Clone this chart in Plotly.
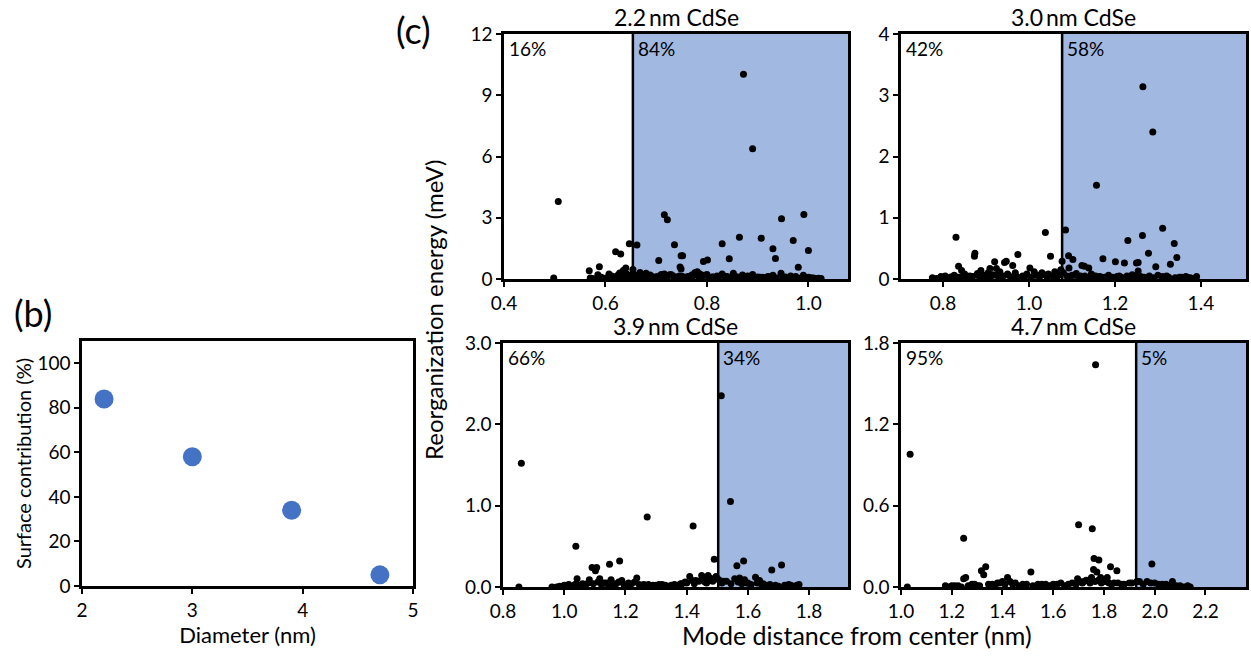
import plotly.graph_objects as go

W, H = 1251, 656
FONT = "Lato"

# ---------------- data ----------------
# panel (b)
diam = [2.2, 3.0, 3.9, 4.7]
surface_pct = [84, 58, 34, 5]

# panel (c) 2.2 nm
x22 = [0.507, 0.498, 0.872, 0.890, 0.716, 0.722, 0.947, 0.991, 0.864, 0.907, 0.970, 0.930, 1.000,
       0.935, 0.844, 0.830, 0.736, 0.749, 0.752, 0.747, 0.749, 0.705, 0.793, 0.801, 0.980, 0.647,
       0.662, 0.620, 0.630, 0.568, 0.588, 0.640, 0.635, 0.654, 0.607, 0.628, 0.585,
       0.570, 0.592, 0.600, 0.612, 0.618, 0.625, 0.633, 0.642, 0.650, 0.660, 0.668, 0.673, 0.680,
       0.688, 0.695, 0.702, 0.710, 0.716, 0.724, 0.731, 0.740, 0.746, 0.755, 0.762, 0.770, 0.776,
       0.781, 0.786, 0.792, 0.800, 0.810, 0.820, 0.830, 0.840, 0.852, 0.860, 0.870, 0.880, 0.890,
       0.900, 0.910, 0.920, 0.930, 0.946, 0.955, 0.965, 0.975, 0.990, 1.000, 1.010, 1.020]
y22 = [3.80, 0.05, 10.03, 6.38, 3.15, 2.90, 2.95, 3.16, 2.04, 2.00, 1.88, 1.48, 1.40,
       1.01, 0.99, 1.73, 1.68, 1.14, 1.14, 0.59, 0.49, 0.91, 0.86, 0.93, 0.57, 1.73,
       1.66, 1.34, 1.22, 0.41, 0.60, 0.54, 0.42, 0.46, 0.24, 0.29, 0.21,
       0.05, 0.08, 0.04, 0.15, 0.10, 0.20, 0.12, 0.25, 0.18, 0.10, 0.32, 0.15, 0.28,
       0.20, 0.10, 0.12, 0.22, 0.25, 0.18, 0.20, 0.10, 0.15, 0.08, 0.12, 0.20, 0.30,
       0.35, 0.25, 0.18, 0.22, 0.10, 0.15, 0.25, 0.12, 0.28, 0.10, 0.20, 0.15, 0.22,
       0.10, 0.08, 0.12, 0.18, 0.28, 0.10, 0.15, 0.12, 0.18, 0.08, 0.05, 0.04]
base22 = [(0.575, 0.03), (0.585, 0.06), (0.595, 0.02), (0.605, 0.08), (0.615, 0.05), (0.622, 0.12),
          (0.628, 0.04), (0.638, 0.09), (0.645, 0.15), (0.652, 0.06), (0.658, 0.20), (0.664, 0.10),
          (0.671, 0.05), (0.677, 0.18), (0.684, 0.08), (0.691, 0.12), (0.698, 0.04), (0.706, 0.15),
          (0.713, 0.09), (0.721, 0.06), (0.728, 0.22), (0.735, 0.11), (0.743, 0.07), (0.751, 0.14),
          (0.758, 0.05), (0.765, 0.10), (0.773, 0.16), (0.779, 0.25), (0.784, 0.12), (0.789, 0.08),
          (0.796, 0.18), (0.804, 0.06), (0.813, 0.10), (0.822, 0.05), (0.834, 0.14), (0.846, 0.07),
          (0.856, 0.12), (0.865, 0.05), (0.875, 0.09), (0.885, 0.13), (0.895, 0.04), (0.905, 0.08),
          (0.915, 0.06), (0.925, 0.11), (0.937, 0.05), (0.950, 0.09), (0.960, 0.04), (0.972, 0.07),
          (0.985, 0.05), (0.995, 0.03), (1.005, 0.06), (1.015, 0.02), (1.025, 0.03)]
cut22 = 0.654

# panel (c) 3.0 nm
x30 = [1.265, 1.288, 1.157, 1.085, 1.038, 1.311, 1.264, 1.230, 1.338, 0.830, 0.874, 0.873, 0.974,
       1.050, 1.092, 1.102, 1.172, 1.201, 1.222, 1.250, 1.254, 1.278, 1.344, 1.329, 1.295, 1.254,
       1.093, 0.920, 0.943, 0.947, 0.962, 1.002, 1.077, 0.836, 0.843, 0.888, 0.909, 0.924, 1.123,
       1.129, 1.139, 1.074,
       0.775, 0.795, 0.805, 0.815, 0.826, 0.850, 0.862, 0.880, 0.895, 0.905, 0.915, 0.932, 0.952,
       0.968, 0.985, 0.995, 1.012, 1.020, 1.030, 1.045, 1.060, 1.070, 1.080, 1.100, 1.110, 1.120,
       1.145, 1.150, 1.165, 1.185, 1.195, 1.210, 1.240, 1.260, 1.300, 1.320, 1.350, 1.365, 1.375,
       1.390]
y30 = [3.14, 2.40, 1.53, 0.80, 0.76, 0.83, 0.71, 0.63, 0.58, 0.68, 0.42, 0.37, 0.40,
       0.37, 0.38, 0.32, 0.33, 0.28, 0.26, 0.26, 0.27, 0.42, 0.35, 0.24, 0.20, 0.13,
       0.18, 0.28, 0.27, 0.29, 0.22, 0.18, 0.29, 0.21, 0.14, 0.14, 0.17, 0.17, 0.22,
       0.21, 0.18, 0.15,
       0.02, 0.04, 0.05, 0.03, 0.06, 0.08, 0.05, 0.09, 0.06, 0.10, 0.07, 0.12, 0.06,
       0.10, 0.05, 0.08, 0.12, 0.06, 0.10, 0.08, 0.12, 0.07, 0.10, 0.06, 0.09, 0.05,
       0.08, 0.05, 0.04, 0.06, 0.03, 0.05, 0.07, 0.04, 0.06, 0.05, 0.03, 0.04, 0.02,
       0.04]
base30 = [(0.785, 0.01), (0.800, 0.03), (0.812, 0.02), (0.822, 0.04), (0.835, 0.03), (0.846, 0.05),
          (0.856, 0.02), (0.868, 0.04), (0.878, 0.06), (0.886, 0.03), (0.898, 0.05), (0.910, 0.02),
          (0.922, 0.06), (0.930, 0.03), (0.940, 0.05), (0.950, 0.08), (0.958, 0.03), (0.970, 0.05),
          (0.980, 0.02), (0.990, 0.04), (1.005, 0.03), (1.015, 0.06), (1.025, 0.04), (1.035, 0.07),
          (1.042, 0.03), (1.055, 0.05), (1.065, 0.03), (1.072, 0.08), (1.088, 0.05), (1.095, 0.03),
          (1.105, 0.06), (1.115, 0.04), (1.130, 0.05), (1.140, 0.03), (1.155, 0.05), (1.160, 0.02),
          (1.175, 0.03), (1.190, 0.02), (1.205, 0.04), (1.215, 0.03), (1.228, 0.05), (1.235, 0.02),
          (1.248, 0.04), (1.268, 0.03), (1.280, 0.05), (1.290, 0.02), (1.310, 0.04), (1.325, 0.03),
          (1.340, 0.02), (1.355, 0.03), (1.370, 0.02), (1.380, 0.01)]
cut30 = 1.077

# panel (c) 3.9 nm
x39 = [0.860, 0.852, 1.513, 1.543, 1.271, 1.421, 1.038, 1.490, 1.181, 1.148, 1.091, 1.106, 1.102,
       1.586, 1.564, 1.710, 1.678, 1.042, 1.410, 1.449, 1.470, 1.496, 1.625, 1.237, 1.082, 1.116,
       1.153, 1.188, 1.557, 1.573, 1.589, 1.638, 1.733, 1.767,
       0.960, 0.985, 1.000, 1.015, 1.060, 1.130, 1.170, 1.210, 1.260, 1.290, 1.320, 1.350, 1.380,
       1.395, 1.430, 1.460, 1.480, 1.520, 1.600, 1.650, 1.690, 1.740]
y39 = [1.52, 0.00, 2.35, 1.05, 0.86, 0.75, 0.50, 0.34, 0.32, 0.28, 0.24, 0.24, 0.20,
       0.32, 0.26, 0.27, 0.21, 0.10, 0.13, 0.14, 0.14, 0.13, 0.12, 0.11, 0.09, 0.10,
       0.09, 0.08, 0.10, 0.11, 0.09, 0.08, 0.03, 0.03,
       0.00, 0.01, 0.02, 0.03, 0.04, 0.05, 0.04, 0.05, 0.03, 0.02, 0.03, 0.02, 0.04,
       0.06, 0.08, 0.06, 0.10, 0.07, 0.05, 0.04, 0.02, 0.02]
base39 = [(0.975, 0.00), (0.995, 0.01), (1.008, 0.02), (1.025, 0.01), (1.035, 0.03), (1.050, 0.02),
          (1.070, 0.03), (1.078, 0.05), (1.095, 0.04), (1.110, 0.06), (1.122, 0.03), (1.138, 0.05),
          (1.145, 0.02), (1.160, 0.04), (1.178, 0.06), (1.195, 0.03), (1.205, 0.02), (1.220, 0.04),
          (1.230, 0.06), (1.245, 0.03), (1.255, 0.02), (1.275, 0.03), (1.285, 0.01), (1.300, 0.02),
          (1.310, 0.03), (1.330, 0.02), (1.340, 0.01), (1.360, 0.03), (1.370, 0.02), (1.385, 0.04),
          (1.400, 0.05), (1.418, 0.08), (1.425, 0.04), (1.440, 0.07), (1.455, 0.09), (1.465, 0.05),
          (1.475, 0.11), (1.485, 0.07), (1.505, 0.09), (1.515, 0.05), (1.530, 0.07), (1.545, 0.04),
          (1.568, 0.06), (1.580, 0.04), (1.595, 0.05), (1.610, 0.03), (1.630, 0.05), (1.645, 0.03),
          (1.660, 0.02), (1.672, 0.03), (1.700, 0.01), (1.720, 0.02), (1.750, 0.01), (1.760, 0.02)]
cut39 = 1.503

# panel (c) 4.7 nm
x47 = [1.036, 1.025, 1.767, 1.700, 1.754, 1.247, 1.761, 1.780, 1.989, 1.826, 1.851, 1.334, 1.317,
       1.326, 1.512, 1.759, 1.772, 1.787, 1.255, 1.247, 1.420, 1.696, 1.751, 1.813, 2.070,
       1.175, 1.200, 1.225, 1.280, 1.300, 1.360, 1.380, 1.400, 1.450, 1.480, 1.540, 1.570, 1.600,
       1.630, 1.660, 1.720, 1.740, 1.800, 1.840, 1.870, 1.900, 1.930, 1.970, 2.000, 2.030, 2.100,
       2.130]
y47 = [0.98, 0.00, 1.64, 0.46, 0.43, 0.36, 0.21, 0.20, 0.17, 0.15, 0.12, 0.15, 0.12,
       0.09, 0.11, 0.13, 0.11, 0.07, 0.07, 0.06, 0.07, 0.06, 0.07, 0.07, 0.04,
       0.01, 0.01, 0.01, 0.02, 0.01, 0.02, 0.03, 0.04, 0.03, 0.02, 0.02, 0.02, 0.02,
       0.03, 0.02, 0.04, 0.05, 0.05, 0.03, 0.02, 0.03, 0.04, 0.04, 0.03, 0.02, 0.01,
       0.01]
base47 = [(1.185, 0.00), (1.212, 0.01), (1.238, 0.00), (1.265, 0.01), (1.290, 0.02), (1.310, 0.01),
          (1.345, 0.02), (1.370, 0.01), (1.390, 0.03), (1.410, 0.02), (1.430, 0.04), (1.440, 0.02),
          (1.465, 0.01), (1.495, 0.02), (1.520, 0.01), (1.555, 0.02), (1.585, 0.01), (1.615, 0.02),
          (1.645, 0.01), (1.675, 0.03), (1.690, 0.02), (1.705, 0.04), (1.715, 0.03), (1.730, 0.05),
          (1.745, 0.03), (1.765, 0.04), (1.778, 0.05), (1.790, 0.03), (1.805, 0.04), (1.820, 0.03),
          (1.830, 0.02), (1.855, 0.03), (1.880, 0.02), (1.910, 0.03), (1.940, 0.04), (1.955, 0.02),
          (1.985, 0.03), (2.015, 0.02), (2.045, 0.02), (2.060, 0.01), (2.085, 0.01), (2.115, 0.00),
          (2.140, 0.00)]
cut47 = 1.927

titles = ["2.2\u2009nm CdSe", "3.0\u2009nm CdSe", "3.9\u2009nm CdSe", "4.7\u2009nm CdSe"]
pct_in = ["16%", "42%", "66%", "95%"]
pct_out = ["84%", "58%", "34%", "5%"]

# ---------------- layout helpers ----------------
def dom_x(p0, p1):
    return [p0 / W, p1 / W]

def dom_y(top, bottom):
    return [1 - bottom / H, 1 - top / H]

fig = go.Figure()

TICK = 19
axis_common = dict(showline=True, linecolor="black", linewidth=2.5, mirror=True,
                   ticks="outside", ticklen=5, tickwidth=2, tickcolor="black",
                   showgrid=False, zeroline=False, automargin=False,
                   tickfont=dict(family=FONT, size=TICK, color="black"))

# panel b
fig.add_trace(go.Scatter(x=diam, y=surface_pct, mode="markers",
                         marker=dict(size=19, color="#4472C4"), xaxis="x", yaxis="y",
                         showlegend=False, cliponaxis=False))

panels = [
    (x22, y22, base22, cut22, [0.4, 1.078], [0, 12], [0.4, 0.6, 0.8, 1.0], [0, 3, 6, 9, 12], ".1f", "d",
     (504, 848), (34, 279)),
    (x30, y30, base30, cut30, [0.702, 1.505], [0, 4], [0.8, 1.0, 1.2, 1.4], [0, 1, 2, 3, 4], ".1f", "d",
     (901, 1246), (34, 279)),
    (x39, y39, base39, cut39, [0.8, 1.927], [0, 3], [0.8, 1.0, 1.2, 1.4, 1.6, 1.8], [0, 1, 2, 3],
     ".1f", ".1f", (503, 848), (343, 587)),
    (x47, y47, base47, cut47, [1.0, 2.36], [0, 1.8], [1.0, 1.2, 1.4, 1.6, 1.8, 2.0, 2.2],
     [0, 0.6, 1.2, 1.8], ".1f", ".1f", (901, 1246), (343, 587)),
]

layout = dict(
    width=W, height=H, margin=dict(l=0, r=0, t=0, b=0, autoexpand=False),
    paper_bgcolor="white", plot_bgcolor="white",
    font=dict(family=FONT, color="black"),
    xaxis=dict(domain=dom_x(82, 413), anchor="y", range=[2, 5], tickvals=[2, 3, 4, 5],
               title=dict(text="Diameter (nm)", font=dict(family=FONT, size=22), standoff=2),
               **axis_common),
    yaxis=dict(domain=dom_y(341, 586), anchor="x", range=[0, 110],
               tickvals=[0, 20, 40, 60, 80, 100],
               title=dict(text="Surface contribution (%)", font=dict(family=FONT, size=20), standoff=1),
               **axis_common),
)

shapes = []
annotations = []
for i, (xs, ys, base, cut, xr, yr, xt, yt, xfmt, yfmt, (l, r), (t, b)) in enumerate(panels):
    n = i + 2
    xa, ya = f"x{n}", f"y{n}"
    bx = [p[0] for p in base]
    by = [p[1] for p in base]
    fig.add_trace(go.Scatter(x=xs + bx, y=ys + by, mode="markers", marker=dict(size=7, color="black"),
                             xaxis=xa, yaxis=ya, showlegend=False))
    layout[f"xaxis{n}"] = dict(domain=dom_x(l, r), anchor=ya, range=xr, tickvals=xt,
                               tickformat=xfmt, **axis_common)
    layout[f"yaxis{n}"] = dict(domain=dom_y(t, b), anchor=xa, range=yr, tickvals=yt,
                               tickformat=yfmt, **axis_common)
    shapes.append(dict(type="rect", xref=xa, yref=f"{ya} domain", x0=cut, x1=xr[1], y0=0, y1=1,
                       fillcolor="#A1B8E0", line=dict(width=0), layer="below"))
    shapes.append(dict(type="line", xref=xa, yref=f"{ya} domain", x0=cut, x1=cut, y0=0, y1=1,
                       line=dict(color="black", width=2.5), layer="below"))
    annotations.append(dict(text=pct_in[i], xref=f"{xa} domain", yref=f"{ya} domain", x=0.008, y=0.995,
                            xanchor="left", yanchor="top", showarrow=False,
                            font=dict(family=FONT, size=19, color="black")))
    annotations.append(dict(text=pct_out[i], xref=xa, yref=f"{ya} domain",
                            x=cut + (xr[1] - xr[0]) * 0.008, y=0.995,
                            xanchor="left", yanchor="top", showarrow=False,
                            font=dict(family=FONT, size=19, color="black")))
    annotations.append(dict(text=titles[i], xref="paper", yref="paper", x=(l + r) / 2 / W,
                            y=1 - (t - 17) / H, xanchor="center", yanchor="middle", showarrow=False,
                            font=dict(family=FONT, size=23, color="black")))

annotations += [
    dict(text="Reorganization energy (meV)", xref="paper", yref="paper", x=433 / W, y=1 - 310 / H,
         textangle=-90, xanchor="center", yanchor="middle", showarrow=False,
         font=dict(family=FONT, size=24, color="black")),
    dict(text="Mode distance from center (nm)", xref="paper", yref="paper", x=857 / W, y=1 - 635 / H,
         xanchor="center", yanchor="middle", showarrow=False,
         font=dict(family=FONT, size=25, color="black")),
    dict(text="(c)", xref="paper", yref="paper", x=413 / W, y=1 - 30 / H,
         xanchor="center", yanchor="middle", showarrow=False,
         font=dict(family=FONT, size=36, color="black")),
    dict(text="(b)", xref="paper", yref="paper", x=33 / W, y=1 - 313 / H,
         xanchor="center", yanchor="middle", showarrow=False,
         font=dict(family=FONT, size=36, color="black")),
]

layout["shapes"] = shapes
layout["annotations"] = annotations
fig.update_layout(**layout)
fig.write_html("out.html", config={"displayModeBar": False},
               post_script="document.body.style.margin='0';document.body.style.overflow='hidden';")
